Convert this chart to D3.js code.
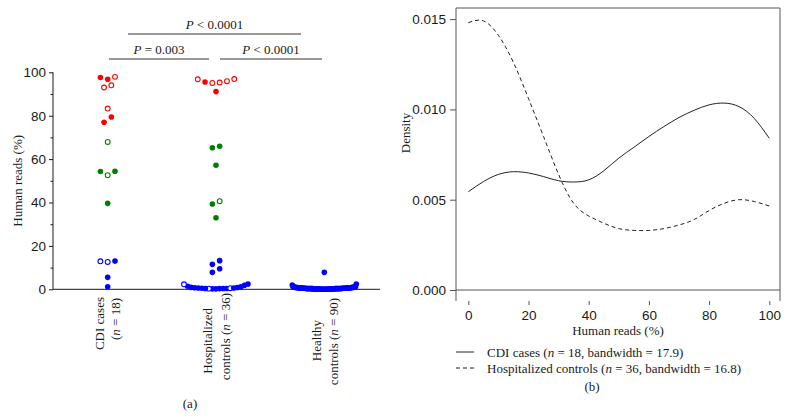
<!DOCTYPE html>
<html>
<head>
<meta charset="utf-8">
<script src="https://cdn.jsdelivr.net/npm/d3@7"></script>
<style>
  body { margin: 0; background: #fff; }
  svg { font-family: "Liberation Serif", "DejaVu Serif", serif; }
</style>
</head>
<body>
<svg width="790" height="417"></svg>
<script>
// ---- data ----
const groups = ["cdi", "hosp", "healthy"];
const groupLabels = [
  [["CDI cases"], ["(", ["n"], " = 18)"]],
  [["Hospitalized"], ["controls (", ["n"], " = 36)"]],
  [["Healthy"], ["controls (", ["n"], " = 90)"]]
];

// human reads (%) per sample, split by marker style
const cdiFilled = [97.6, 96.8, 79.4, 77.0, 54.4, 54.3, 39.6, 13.0, 5.5, 1.2];
const cdiOpen = [97.9, 94.0, 93.0, 83.3, 67.9, 52.6, 12.9, 12.6];
const hospFilled = [95.5, 91.1, 65.9, 65.2, 57.2, 39.3, 33.0, 13.2, 11.5, 9.5, 7.8,
  2.4, 1.9, 1.4, 1.1, 0.9, 0.8, 0.7, 0.6, 0.6, 0.5, 0.4, 0.4, 0.4, 0.3, 0.2, 0.2];
const hospOpen = [96.9, 96.8, 95.9, 95.3, 95.1, 40.6, 2.3, 0.5, 0.3];
const healthyFilled = [7.8, 2.4, 2.0, 1.2, 1.2,
  1.0, 1.0, 1.0, 1.0, 0.9, 0.9, 0.9, 0.8, 0.8, 0.8, 0.8, 0.8,
  0.7, 0.7, 0.7, 0.7, 0.7, 0.6, 0.6, 0.6, 0.6, 0.6, 0.6, 0.6, 0.6,
  0.5, 0.5, 0.5, 0.5, 0.5, 0.5, 0.5, 0.5, 0.5, 0.5,
  0.4, 0.4, 0.4, 0.4, 0.4, 0.4, 0.4, 0.4, 0.4, 0.4,
  0.3, 0.3, 0.3, 0.3, 0.3, 0.3, 0.3, 0.3, 0.3, 0.3,
  0.2, 0.2, 0.2, 0.2, 0.2, 0.2, 0.2, 0.2, 0.2, 0.2,
  0.1, 0.1, 0.1, 0.1, 0.1, 0.1, 0.1, 0.1, 0.1, 0.1,
  0, 0, 0, 0, 0, 0, 0, 0, 0, 0];
const healthyOpen = [];

const readsTicks = [0, 20, 40, 60, 80, 100];
const readsMinor = [10, 30, 50, 70, 90];

// kernel density curves (panel b)
const densityX = [0, 5, 10, 15, 20, 25, 30, 35, 40, 45, 50, 55, 60, 65, 70, 75, 80, 85, 90, 95, 100];
const cdiDensity = [0.00544, 0.00600, 0.00640, 0.00655, 0.00648, 0.00628, 0.00605, 0.00598, 0.00610, 0.00660,
  0.00730, 0.00790, 0.00850, 0.00905, 0.00955, 0.00995, 0.01025, 0.01035, 0.01015, 0.00950, 0.00840];
const hospDensity = [0.01480, 0.01490, 0.01410, 0.01260, 0.01060, 0.00850, 0.00640, 0.00480, 0.00410, 0.00370,
  0.00340, 0.00330, 0.00330, 0.00340, 0.00360, 0.00390, 0.00440, 0.00480, 0.00500, 0.00490, 0.00465];
const densityTicks = [0, 0.005, 0.010, 0.015];
const densityTickLabels = ["0.000", "0.005", "0.010", "0.015"];
const legendItems = [
  ["CDI cases (", ["n"], " = 18, bandwidth = 17.9)"],
  ["Hospitalized controls (", ["n"], " = 36, bandwidth = 16.8)"]
];

// ---- drawing ----
const svg = d3.select("svg");
const ink = "#1a1a1a";

// write a label made of plain strings and [italic] pieces
function richText(sel, parts) {
  parts.forEach(p => {
    if (Array.isArray(p)) sel.append("tspan").attr("font-style", "italic").text(p[0]);
    else sel.append("tspan").text(p);
  });
  return sel;
}

// ===== panel (a) =====
const yL = d3.scaleLinear().domain([0, 100]).range([289.3, 72.3]);
const xL = d3.scalePoint().domain(groups).range([107.7, 324.3]);
const colour = d3.scaleThreshold().domain([20, 75]).range(["#0000ff", "#008000", "#ff0000"]);

const binWidth = 3.4;   // % reads sharing one row
const dotStep = 7.3;    // px between neighbours in a row
const maxSpread = 64;   // px, rows wider than this are squeezed

function swarm(filled, open) {
  const pts = filled.map(v => ({ v, open: false }))
    .concat(open.map(v => ({ v, open: true })))
    .sort((a, b) => a.v - b.v);
  const bins = [];
  pts.forEach(p => {
    const b = bins[bins.length - 1];
    if (b && p.v - b[0].v <= binWidth) b.push(p);
    else bins.push([p]);
  });
  bins.forEach(b => {
    const n = b.length;
    const sp = n > 1 ? Math.min(dotStep, maxSpread / (n - 1)) : 0;
    b.forEach((p, i) => {
      let k;
      if (n % 2) k = i === 0 ? 0 : (i % 2 ? -(i + 1) / 2 : i / 2);
      else k = (i % 2 ? 1 : -1) * (Math.floor(i / 2) + 0.5);
      p.dx = k * sp;
    });
  });
  return pts;
}

const swarms = {
  cdi: swarm(cdiFilled, cdiOpen),
  hosp: swarm(hospFilled, hospOpen),
  healthy: swarm(healthyFilled, healthyOpen)
};

// y axis
const gA = svg.append("g");
gA.append("g")
  .attr("transform", "translate(53,0)")
  .call(d3.axisLeft(yL).tickValues(readsTicks).tickSize(4).tickPadding(3))
  .call(g => g.select(".domain").attr("d", `M0,${yL(0)}V${yL(100)}`))
  .call(g => g.selectAll("line").attr("stroke", ink))
  .call(g => g.selectAll("path").attr("stroke", ink))
  .call(g => g.selectAll("text").attr("font-family", null).attr("font-size", 13.5).attr("fill", ink));
gA.append("g")
  .attr("transform", "translate(53,0)")
  .call(d3.axisLeft(yL).tickValues(readsMinor).tickSize(2.5).tickFormat(""))
  .call(g => g.select(".domain").remove())
  .call(g => g.selectAll("line").attr("stroke", ink));

// baseline
gA.append("line")
  .attr("x1", 53).attr("x2", 380)
  .attr("y1", yL(0)).attr("y2", yL(0))
  .attr("stroke", ink).attr("stroke-width", 1);

gA.append("text")
  .attr("transform", `translate(17,${yL(50)}) rotate(-90)`)
  .attr("text-anchor", "middle").attr("dominant-baseline", "central")
  .attr("font-size", 13).attr("fill", ink)
  .text("Human reads (%)");

// dots
groups.forEach(g => {
  gA.append("g").selectAll("circle")
    .data(swarms[g])
    .join("circle")
    .attr("cx", d => xL(g) + d.dx)
    .attr("cy", d => yL(d.v))
    .attr("r", d => d.open ? 2.4 : 2.8)
    .attr("fill", d => d.open ? "#fff" : colour(d.v))
    .attr("stroke", d => d.open ? colour(d.v) : "none")
    .attr("stroke-width", 1.1);
});

// category labels (rotated)
const labelEnds = [[297, 298], [308, 293], [320, 298]];
const labelOffsets = [[-9, 7], [-9, 9], [-8, 9]];
groups.forEach((g, i) => {
  groupLabels[i].forEach((line, j) => {
    const t = gA.append("text")
      .attr("transform", `translate(${xL(g) + labelOffsets[i][j]},${labelEnds[i][j]}) rotate(-90)`)
      .attr("text-anchor", "end").attr("dominant-baseline", "central")
      .attr("font-size", 13).attr("fill", ink);
    richText(t, line);
  });
});

// significance brackets
const brackets = [
  { from: 128, to: 301, y: 34, label: ["", ["P"], " < 0.0001"] },
  { from: 109, to: 209, y: 59, label: ["", ["P"], " = 0.003"] },
  { from: 220, to: 322, y: 59, label: ["", ["P"], " < 0.0001"] }
];
brackets.forEach(b => {
  gA.append("line")
    .attr("x1", b.from).attr("x2", b.to).attr("y1", b.y).attr("y2", b.y)
    .attr("stroke", "#333").attr("stroke-width", 1);
  richText(gA.append("text")
    .attr("x", (b.from + b.to) / 2).attr("y", b.y - 5)
    .attr("text-anchor", "middle").attr("font-size", 13).attr("fill", ink), b.label);
});

gA.append("text")
  .attr("x", 190).attr("y", 408)
  .attr("text-anchor", "middle").attr("font-size", 13).attr("fill", ink)
  .text("(a)");

// ===== panel (b) =====
const xR = d3.scaleLinear().domain([0, 100]).range([468.3, 769.3]);
const yR = d3.scaleLinear().domain([0, 0.015]).range([290, 19.1]);
const gray = "#555";
const box = { left: 456, right: 780, top: 8, bottom: 301 };
const gB = svg.append("g");

gB.append("path")
  .attr("d", `M${box.left},${box.bottom}V${box.top}H${box.right}V${box.bottom}`)
  .attr("fill", "none").attr("stroke", gray).attr("stroke-width", 1);

gB.append("g")
  .attr("transform", `translate(${box.left},0)`)
  .call(d3.axisLeft(yR).tickValues(densityTicks).tickSize(6).tickPadding(4)
    .tickFormat((d, i) => densityTickLabels[i]))
  .call(g => g.select(".domain").remove())
  .call(g => g.selectAll("line").attr("stroke", gray))
  .call(g => g.selectAll("text").attr("font-family", null).attr("font-size", 13.5).attr("fill", ink));

gB.append("g")
  .attr("transform", `translate(0,${box.bottom})`)
  .call(d3.axisBottom(xR).tickValues(readsTicks).tickSize(4).tickPadding(5))
  .call(g => g.select(".domain").remove())
  .call(g => g.selectAll("line").attr("stroke", gray))
  .call(g => g.selectAll("text").attr("font-family", null).attr("font-size", 13.5).attr("fill", ink));

// zero line
gB.append("line")
  .attr("x1", box.left).attr("x2", box.right)
  .attr("y1", yR(0)).attr("y2", yR(0))
  .attr("stroke", gray).attr("stroke-width", 1);

gB.append("text")
  .attr("transform", `translate(405,133) rotate(-90)`)
  .attr("text-anchor", "middle").attr("dominant-baseline", "central")
  .attr("font-size", 13).attr("fill", ink)
  .text("Density");

gB.append("text")
  .attr("x", 618).attr("y", 335)
  .attr("text-anchor", "middle").attr("font-size", 13).attr("fill", ink)
  .text("Human reads (%)");

const line = d3.line()
  .x((d, i) => xR(densityX[i]))
  .y(d => yR(d))
  .curve(d3.curveNatural);

gB.append("path").datum(cdiDensity)
  .attr("d", line).attr("fill", "none").attr("stroke", "#222").attr("stroke-width", 1);
gB.append("path").datum(hospDensity)
  .attr("d", line).attr("fill", "none").attr("stroke", "#222").attr("stroke-width", 1)
  .attr("stroke-dasharray", "4,3");

// legend
legendItems.forEach((item, i) => {
  const y = 352 + i * 16;
  gB.append("line")
    .attr("x1", 456).attr("x2", 474).attr("y1", y).attr("y2", y)
    .attr("stroke", "#222").attr("stroke-width", 1)
    .attr("stroke-dasharray", i ? "4,3" : null);
  richText(gB.append("text")
    .attr("x", 487).attr("y", y + 4.5)
    .attr("font-size", 13).attr("fill", ink), item);
});

gB.append("text")
  .attr("x", 592).attr("y", 391)
  .attr("text-anchor", "middle").attr("font-size", 13).attr("fill", ink)
  .text("(b)");
</script>
</body>
</html>
